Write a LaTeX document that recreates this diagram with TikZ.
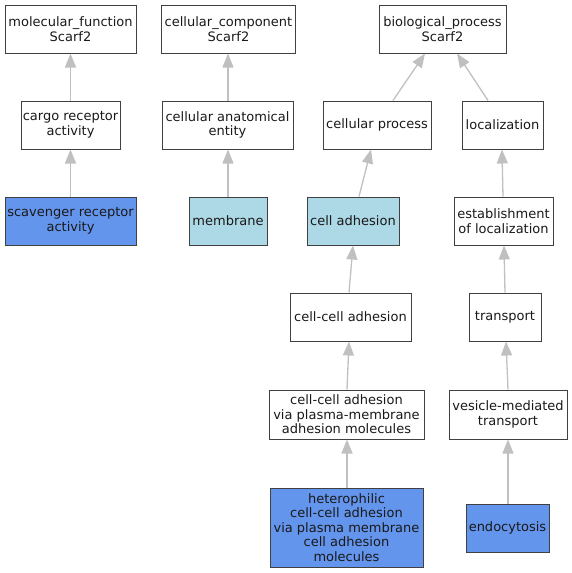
\documentclass[tikz,border=0pt]{standalone}
\usepackage{fontspec}
\setmainfont{DejaVu Sans}
\usetikzlibrary{arrows.meta}
\definecolor{nodeblue}{HTML}{6495ED}
\definecolor{nodelight}{HTML}{ADD8E6}
\definecolor{edgegray}{HTML}{C0C0C0}
\definecolor{bordergray}{HTML}{404040}
\begin{document}
\begin{tikzpicture}[x=1pt,y=-1pt,
  term/.style={draw=bordergray,line width=1pt,rectangle,inner sep=0pt,align=center,
    minimum height=48pt,font=\fontsize{13pt}{14.6pt}\selectfont,text=black!90},
  isa/.style={draw=edgegray,line width=1.3pt,-{Triangle[length=14pt,width=11pt]}}]
\useasboundingbox (0,0) rectangle (572,573);
% column 1
\node[term,minimum width=131pt] (mf) at (70.5,29) {molecular\_function\\Scarf2};
\node[term,minimum width=99pt] (cra) at (70.5,125) {cargo receptor\\activity};
\node[term,minimum width=131pt,fill=nodeblue] (sra) at (70.5,221) {scavenger receptor\\activity};
% column 2
\node[term,minimum width=134pt] (cc) at (228.5,29) {cellular\_component\\Scarf2};
\node[term,minimum width=131pt] (cae) at (227.5,125) {cellular anatomical\\entity};
\node[term,minimum width=78pt,fill=nodelight] (mem) at (228,221) {membrane};
% column 3
\node[term,minimum width=127pt] (bp) at (442.5,29) {biological\_process\\Scarf2};
\node[term,minimum width=108pt] (cp) at (377,125) {cellular process};
\node[term,minimum width=81pt] (loc) at (502.5,125) {localization};
\node[term,minimum width=92pt,fill=nodelight] (ca) at (353,221) {cell adhesion};
\node[term,minimum width=99pt] (eol) at (503.5,221) {establishment\\of localization};
\node[term,minimum width=121pt] (cca) at (350.5,317) {cell-cell adhesion};
\node[term,minimum width=72pt] (tr) at (505,317) {transport};
\node[term,minimum width=155pt,minimum height=49pt] (ccav) at (346.5,414.5) {cell-cell adhesion\\via plasma-membrane\\adhesion molecules};
\node[term,minimum width=118pt,minimum height=49pt] (vmt) at (508,414.5) {vesicle-mediated\\transport};
\node[term,minimum width=153pt,minimum height=79pt,fill=nodeblue] (het) at (346.5,527.5) {heterophilic\\cell-cell adhesion\\via plasma membrane\\cell adhesion\\molecules};
\node[term,minimum width=83pt,fill=nodeblue] (endo) at (507.5,528) {endocytosis};
% edges
\draw[isa] (cra.north) -- (mf.south);
\draw[isa] (sra.north) -- (cra.north |- cra.south);
\draw[isa] ([xshift=0.5pt]cae.north) -- ([xshift=-0.5pt]cc.south);
\draw[isa] (mem.north) -- ([xshift=0.5pt]cae.south);
\draw[isa] ([xshift=16pt]cp.north) -- ([xshift=-17.5pt]bp.south);
\draw[isa] ([xshift=-14.5pt]loc.north) -- ([xshift=14.5pt]bp.south);
\draw[isa] ([xshift=6pt]ca.north) -- ([xshift=-6pt]cp.south);
\draw[isa] ([xshift=-1.5pt]cca.north) -- (ca.south);
\draw[isa] ([xshift=0.5pt]ccav.north) -- ([xshift=-1.5pt]cca.south);
\draw[isa] ([xshift=0.5pt]het.north) -- ([xshift=0.5pt]ccav.south);
\draw[isa] ([xshift=-0.5pt]eol.north) -- ([xshift=-0.5pt]loc.south);
\draw[isa] (tr.north) -- ([xshift=0.5pt]eol.south);
\draw[isa] (vmt.north) -- ([xshift=1pt]tr.south);
\draw[isa] ([xshift=0.5pt]endo.north) -- (vmt.south);
\end{tikzpicture}
\end{document}
